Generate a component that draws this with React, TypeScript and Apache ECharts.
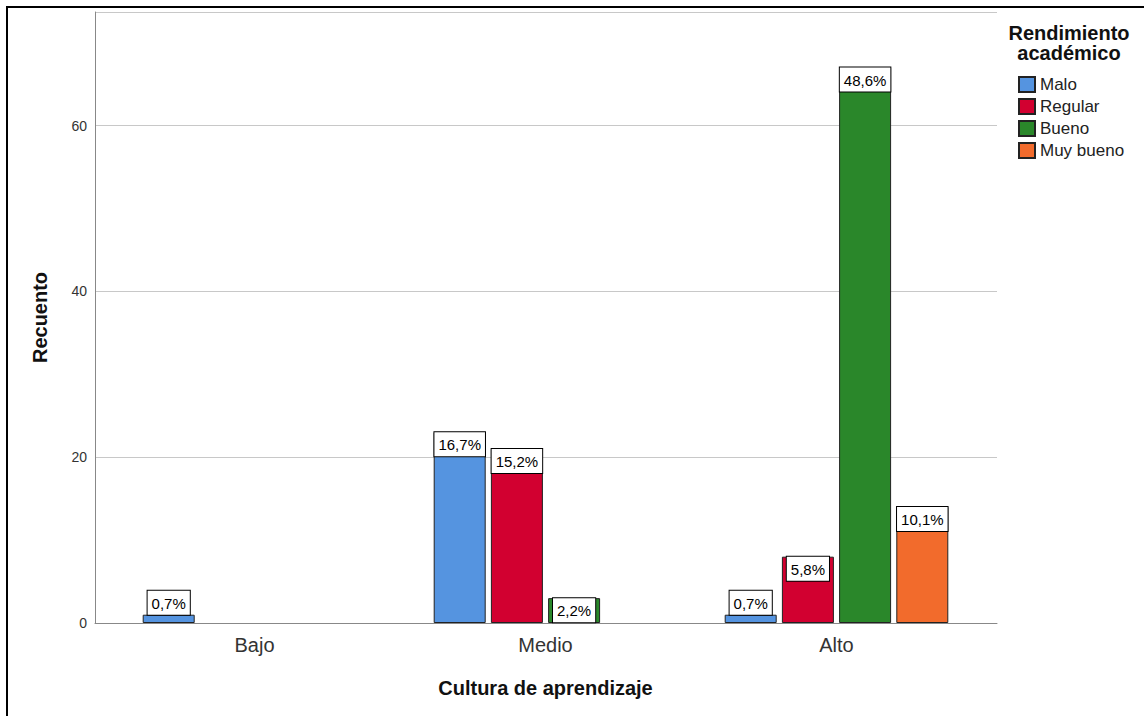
import React, { useEffect, useRef } from "react";
import * as echarts from "echarts";

const categories = ["Bajo", "Medio", "Alto"];
const seriesNames = ["Malo", "Regular", "Bueno", "Muy bueno"];
const maloCounts = [1, 23, 1];
const regularCounts = [null, 21, 8];
const buenoCounts = [null, 3, 67];
const muyBuenoCounts = [null, null, 14];
const maloPct = ["0,7%", "16,7%", "0,7%"];
const regularPct = ["", "15,2%", "5,8%"];
const buenoPct = ["", "2,2%", "48,6%"];
const muyBuenoPct = ["", "", "10,1%"];
const seriesColors = ["#5594e0", "#d20030", "#2a872a", "#f26b2c"];
const yMax = 73.7;
const yInterval = 20;

const FONT = "Liberation Sans, Arial, sans-serif";

export default function App() {
  const ref = useRef<HTMLDivElement>(null);
  useEffect(() => {
    if (!ref.current) return;
    const chart = echarts.init(ref.current, null, { renderer: "svg" });
    const counts = [maloCounts, regularCounts, buenoCounts, muyBuenoCounts];
    const pcts = [maloPct, regularPct, buenoPct, muyBuenoPct];
    const series = seriesNames.map((name, s) => ({
      name,
      type: "bar",
      xAxisIndex: 1,
      yAxisIndex: 1,
      barWidth: 52,
      barGap: "10%",
      itemStyle: { color: seriesColors[s], borderColor: "#222", borderWidth: 1 },
      data: counts[s].map((v) =>
        v == null
          ? null
          : { value: v, label: { position: v <= 2 ? "top" : "insideTop" } }
      ),
      label: {
        show: true,
        distance: 0,
        formatter: (p: any) => pcts[s][p.dataIndex],
        backgroundColor: "#fff",
        borderColor: "#000",
        borderWidth: 1,
        padding: [5, 4, 4, 4],
        color: "#000",
        fontSize: 15,
        lineHeight: 15,
        fontFamily: FONT,
      },
    }));
    chart.setOption({
      animation: false,
      backgroundColor: "#fff",
      grid: [
        { left: 95, right: 147, top: 12, bottom: 93 },
        { left: 109, right: 162, top: 12, bottom: 93 },
      ],
      xAxis: [
        {
          gridIndex: 0,
          type: "category",
          data: categories,
          axisLine: { show: true, lineStyle: { color: "#888", width: 1 } },
          axisTick: { show: false },
          axisLabel: { show: false },
          splitLine: { show: false },
        },
        {
          gridIndex: 1,
          type: "category",
          data: categories,
          axisLine: { show: false },
          axisTick: { show: false },
          axisLabel: { color: "#333", fontSize: 20, fontFamily: FONT, margin: 12 },
          name: "Cultura de aprendizaje",
          nameLocation: "middle",
          nameGap: 55,
          nameTextStyle: { color: "#111", fontSize: 20, fontWeight: "bold", fontFamily: FONT },
        },
      ],
      yAxis: [
        {
          gridIndex: 0,
          type: "value",
          min: 0,
          max: yMax,
          interval: yInterval,
          axisLine: { show: true, onZero: false, lineStyle: { color: "#888", width: 1 } },
          axisTick: { show: false },
          axisLabel: {
            color: "#333",
            fontSize: 14,
            fontFamily: FONT,
            margin: 8,
            showMaxLabel: false,
          },
          splitLine: { show: true, lineStyle: { color: "#c8c8c8", width: 1 } },
          name: "Recuento",
          nameLocation: "middle",
          nameGap: 45,
          nameTextStyle: { color: "#111", fontSize: 20, fontWeight: "bold", fontFamily: FONT },
        },
        {
          gridIndex: 1,
          type: "value",
          min: 0,
          max: yMax,
          interval: yInterval,
          show: false,
          splitLine: { show: false },
        },
      ],
      legend: {
        orient: "vertical",
        left: 1018,
        top: 76,
        padding: 0,
        itemWidth: 16,
        itemHeight: 15,
        itemGap: 5,
        icon: "rect",
        data: seriesNames,
        textStyle: { color: "#222", fontSize: 17, lineHeight: 17, fontFamily: FONT },
      },
      graphic: [
        {
          type: "rect",
          shape: { x: 7, y: 7, width: 1400, height: 900 },
          style: { fill: "none", stroke: "#000", lineWidth: 2 },
          silent: true,
        },
        {
          type: "text",
          x: 1069,
          y: 23,
          style: {
            text: "Rendimiento\nacadémico",
            align: "center",
            verticalAlign: "top",
            font: "bold 20px " + FONT,
            lineHeight: 20,
            fill: "#111",
          },
        },
      ],
      series,
    });
    return () => chart.dispose();
  }, []);
  return (
    <div
      ref={ref}
      style={{ position: "fixed", left: 0, top: 0, width: 1144, height: 716, background: "#fff" }}
    />
  );
}
